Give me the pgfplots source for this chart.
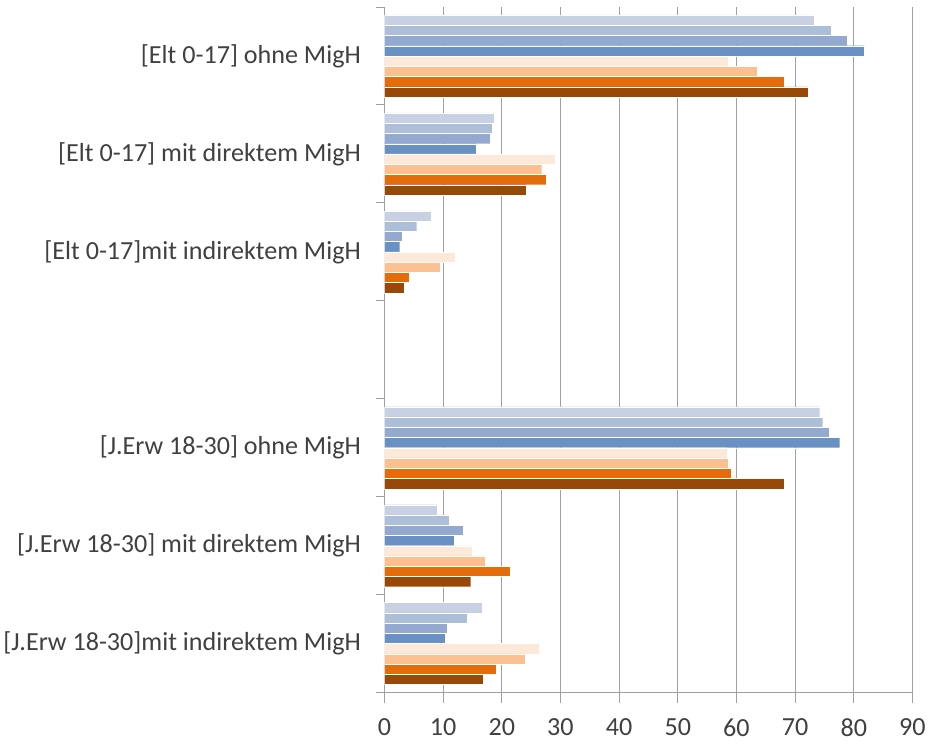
\documentclass[border=0pt]{standalone}
\usepackage{pgfplots}
\usepackage{pgfplotstable}
\usepackage{fontspec}
\setmainfont{Carlito}
\pgfplotsset{compat=1.18}

\definecolor{bA}{HTML}{C8D0E3}
\definecolor{bB}{HTML}{ADBED9}
\definecolor{bC}{HTML}{93A9D0}
\definecolor{bD}{HTML}{6A91C4}
\definecolor{oA}{HTML}{FDE9D9}
\definecolor{oB}{HTML}{FAC090}
\definecolor{oC}{HTML}{E46C0A}
\definecolor{oD}{HTML}{984807}
\definecolor{gridc}{HTML}{A0A0A0}
\definecolor{txt}{HTML}{404040}

% y = category slot (3 is the empty one)
\pgfplotstableread{
y  b1   b2   b3   b4   o1   o2   o3   o4
0  73.3 76.1 78.9 81.8 58.6 63.5 68.1 72.3
1  18.7 18.3 18.0 15.6 29.1 26.8 27.5 24.2
2  7.9  5.5  3.0  2.6  12.1 9.5  4.2  3.3
4  74.2 74.7 75.8 77.6 58.4 58.6 59.1 68.1
5  9.0  11.0 13.4 11.9 14.9 17.1 21.5 14.7
6  16.7 14.1 10.7 10.3 26.4 24.0 19.1 16.9
}\datatab

\begin{document}
\begin{tikzpicture}
\begin{axis}[
  name=ax,
  scale only axis,
  width=526pt, height=683pt,
  xbar, bar width=0.1047,
  xmin=0, xmax=90,
  ymin=-0.5, ymax=6.5,
  y dir=reverse,
  axis x line=bottom, axis y line=left,
  axis line style={gridc, line width=1pt, -},
  xtick={0,10,...,90},
  ytick={0,...,6},
  yticklabels={{[Elt 0-17] ohne MigH},{[Elt 0-17] mit direktem MigH},{[Elt 0-17]mit indirektem MigH},{},{[J.Erw 18-30] ohne MigH},{[J.Erw 18-30] mit direktem MigH},{[J.Erw 18-30]mit indirektem MigH}},
  minor ytick={-0.5,0.5,...,6.5},
  tick align=outside,
  major tick length=10pt,
  minor tick length=8pt,
  tick style={gridc, line width=1pt},
  major y tick style={draw=none},
  xmajorgrids,
  major x grid style={gridc, line width=1pt},
  tick label style={font=\fontsize{26}{30}\selectfont, text=txt},
  yticklabel style={xshift=-10pt},
  xticklabel style={inner ysep=0pt, text depth=0pt, yshift=-16pt},
  /pgf/number format/assume math mode=true,
  every axis plot/.append style={draw=white, line width=0.3pt},
]
\addplot[fill=bA, bar shift=-0.3665] table[x=b1, y=y] {\datatab};
\addplot[fill=bB, bar shift=-0.2618] table[x=b2, y=y] {\datatab};
\addplot[fill=bC, bar shift=-0.1571] table[x=b3, y=y] {\datatab};
\addplot[fill=bD, bar shift=-0.0524] table[x=b4, y=y] {\datatab};
\addplot[fill=oA, bar shift=0.0524] table[x=o1, y=y] {\datatab};
\addplot[fill=oB, bar shift=0.1571] table[x=o2, y=y] {\datatab};
\addplot[fill=oC, bar shift=0.2618] table[x=o3, y=y] {\datatab};
\addplot[fill=oD, bar shift=0.3665] table[x=o4, y=y] {\datatab};
\end{axis}
\path ([yshift=7pt]ax.north) -- ([yshift=-51pt]ax.south);
\end{tikzpicture}
\end{document}
